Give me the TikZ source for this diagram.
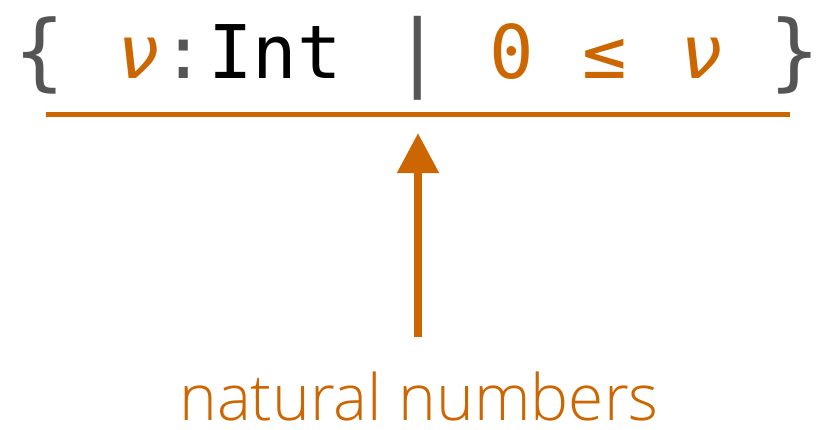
\documentclass[tikz,border=0pt]{standalone}
\usepackage{fontspec}
\usetikzlibrary{arrows.meta}
\newfontfamily\mono{DejaVu Sans Mono}
\newfontfamily\lab{Open Sans Light}
\definecolor{orng}{HTML}{CC6600}
\definecolor{gry}{HTML}{555555}
\begin{document}
\begin{tikzpicture}[x=1pt,y=-1pt,
  txt/.style={inner sep=0,anchor=base,font=\mono\fontsize{74}{74}\selectfont},
  big/.style={inner sep=0,anchor=base,font=\mono\fontsize{84}{84}\selectfont},
  itx/.style={inner sep=0,anchor=base,font=\mono\itshape\fontsize{74}{74}\selectfont}]
\useasboundingbox (0,0) rectangle (822,429);
\node[big,gry] (lb) at (40,80) {\{};
\node[itx,orng] (v1) at (139,78) {ν};
\node[txt,gry] (col) at (184,78) {:};
\node[txt,black] (int) at (275,78) {Int};
\node[big,gry] (bar) at (418,80) {|};
\node[txt,orng] (zero) at (512,78) {0};
\node[txt,orng] (le) at (605,78) {≤};
\node[itx,orng] (v2) at (702,78) {ν};
\node[big,gry] (rb) at (795,80) {\}};
\coordinate (l1) at (46,114);
\coordinate (l2) at (790,114);
\draw[orng,line width=5pt] (l1) -- (l2);
\node[inner sep=0,anchor=base,text depth=0pt,orng,font=\lab\fontsize{64}{64}\selectfont] (nat) at (419,420) {natural numbers};
\coordinate (a0) at (418,337);
\coordinate (a1) at (418,133);
\draw[orng,line width=8pt,-{Triangle[width=40pt,length=40pt]}] (a0) -- (a1);
\end{tikzpicture}
\end{document}
